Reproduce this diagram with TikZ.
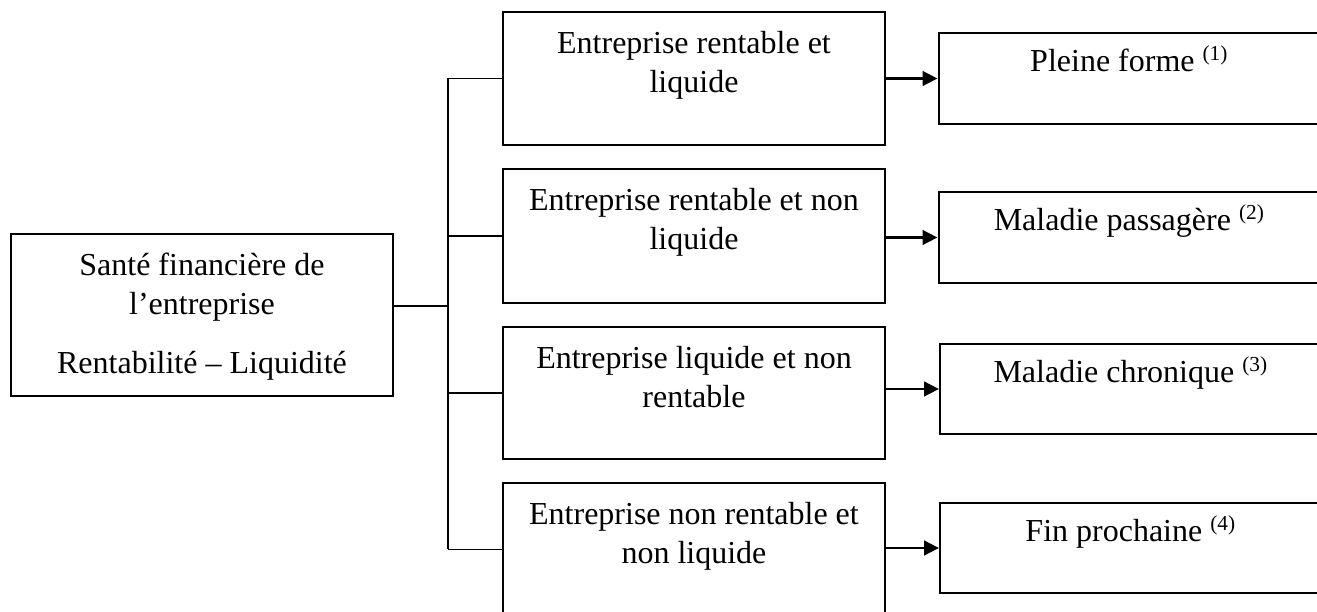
\documentclass[tikz,border=0pt]{standalone}
\usepackage{fontspec}
\setmainfont{Liberation Serif}
\usetikzlibrary{arrows.meta}
\newcommand{\bxtext}[3][15.6pt]{\parbox[c][#2][t]{143.25pt}{\centering\rule{0pt}{#1}#3}}

\begin{document}
\begin{tikzpicture}[x=0.375pt,y=-0.375pt,
  box/.style={draw,line width=0.75pt,inner sep=0pt,font=\fontsize{12}{14.5}\selectfont},
  link/.style={line width=0.7pt},
  arr/.style={line width=1.1pt,-{Triangle[length=5.6pt,width=5.4pt]}}]
\useasboundingbox (0,0) rectangle (1317,612);
\node[box] (sante) at (202,315) {\bxtext{60.75pt}{Santé financière de\\ l’entreprise\\[7.9pt] Rentabilité – Liquidité}};
\node[box] (m1) at (694,78.5) {\bxtext{49.9pt}{Entreprise rentable et\\ liquide}};
\node[box] (m2) at (694,236) {\bxtext{50.25pt}{Entreprise rentable et non\\ liquide}};
\node[box] (m3) at (694,393) {\bxtext{49.5pt}{Entreprise liquide et non\\ rentable}};
\node[box] (m4) at (694,549.5) {\bxtext{49.9pt}{Entreprise non rentable et\\ non liquide}};
\node[box] (r1) at (1129.5,78.5) {\bxtext[14.6pt]{34.1pt}{Pleine forme \textsuperscript{(1)}}};
\node[box] (r2) at (1129.5,237.5) {\bxtext[14.6pt]{34.1pt}{Maladie passagère \textsuperscript{(2)}}};
\node[box] (r3) at (1131,389) {\bxtext[14.6pt]{33.75pt}{Maladie chronique \textsuperscript{(3)}}};
\node[box] (r4) at (1131,548) {\bxtext[14.6pt]{33.75pt}{Fin prochaine \textsuperscript{(4)}}};
\coordinate (tr) at (448,306);
\draw[link] (sante.east |- tr) -- (tr);
\draw[link] (tr |- m1.west) -- (tr |- m4.west);
\foreach \m in {m1,m2,m3,m4}
  \draw[link] (tr |- \m.west) -- (\m.west);
\foreach \m/\r in {m1/r1,m2/r2,m3/r3,m4/r4}
  \draw[arr] (\m.east |- \r.west) -- (\r.west);
\end{tikzpicture}
\end{document}
